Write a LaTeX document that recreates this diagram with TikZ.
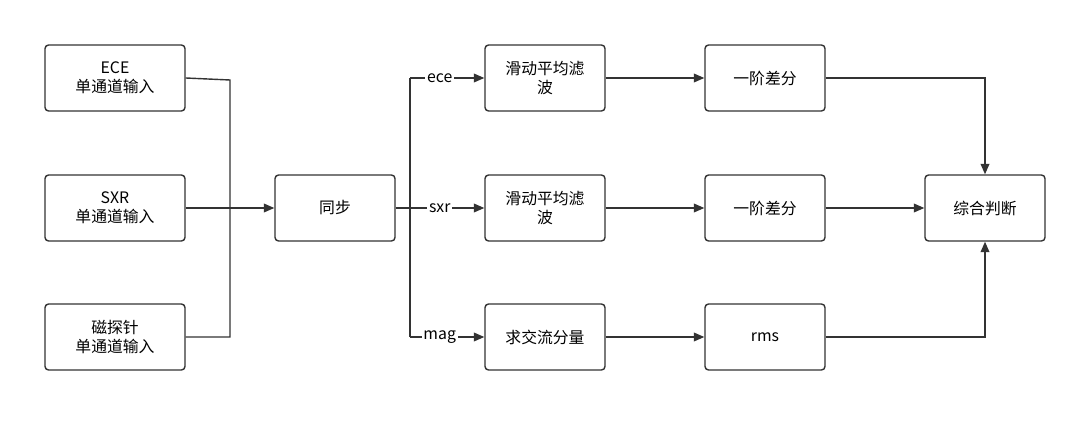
\documentclass[tikz,border=0pt]{standalone}
\usepackage{fontspec}
\setmainfont{Noto Sans CJK SC}
\usetikzlibrary{arrows.meta, positioning}

\begin{document}
\begin{tikzpicture}[x=0.02cm, y=-0.02cm,
    box/.style={draw=black!80, thick, rounded corners=2pt, minimum width=2.4cm, minimum height=1.32cm, align=center, font=\fontsize{9}{11}\selectfont},
    line/.style={draw=black!80, thick},
    arr/.style={line, -{Triangle[length=6pt, width=5pt]}},
    tag/.style={fill=white, inner sep=1pt, font=\fontsize{9}{11}\selectfont}]
\useasboundingbox (0,0) rectangle (1081,432);

\node[box, minimum width=2.8cm] (ece) at (115,78) {ECE\\单通道输入};
\node[box, minimum width=2.8cm] (sxr) at (115,208) {SXR\\单通道输入};
\node[box, minimum width=2.8cm] (mag) at (115,337) {磁探针\\单通道输入};
\node[box] (sync) at (335,208) {同步};

\node[box] (filtA) at (545,78) {滑动平均滤\\波};
\node[box] (filtB) at (545,208) {滑动平均滤\\波};
\node[box] (acpart) at (545,337) {求交流分量};
\node[box] (diffA) at (765,78) {一阶差分};
\node[box] (diffB) at (765,208) {一阶差分};
\node[box] (rms) at (765,337) {rms};
\node[box] (judge) at (985,208) {综合判断};

% input bus
\coordinate (busT) at (230,80);
\coordinate (busB) at (230,337);
\draw[line] (ece.east) -- (busT) -- (busB) -- (mag.east);
\draw[arr] (sxr.east) -- (sync.west);

% split
\coordinate (splT) at (410,78);
\coordinate (splB) at (410,337);
\draw[line] (sync.east) -- (410,208);
\draw[line] (splT) -- (splB);
\draw[arr] (splT) -- node[tag, pos=0.4] {ece} (filtA.west);
\draw[arr] (410,208) -- node[tag, pos=0.4] {sxr} (filtB.west);
\draw[arr] (splB) -- node[tag, pos=0.4] {mag} (acpart.west);

\draw[arr] (filtA) -- (diffA);
\draw[arr] (filtB) -- (diffB);
\draw[arr] (acpart) -- (rms);

\draw[arr] (diffA.east) -| (judge.north);
\draw[arr] (diffB.east) -- (judge.west);
\draw[arr] (rms.east) -| (judge.south);
\end{tikzpicture}
\end{document}
